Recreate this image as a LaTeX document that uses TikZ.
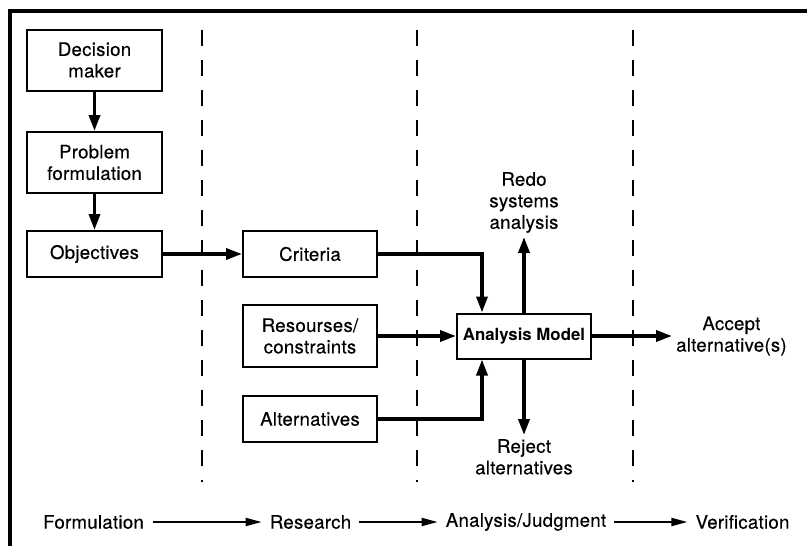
\documentclass[tikz,border=0pt]{standalone}
\usepackage{fontspec}
\setmainfont[LetterSpace=1.5,FakeBold=0.35]{TeX Gyre Heros}
\newfontfamily\modelfont{TeX Gyre Heros}
\usetikzlibrary{arrows.meta}
\begin{document}
\begin{tikzpicture}[x=1pt,y=-1pt,
  every node/.style={font=\fontsize{18.6}{21.5}\selectfont, align=center},
  box/.style={draw, line width=2pt, inner sep=0pt},
  link/.style={line width=3.4pt, -{Triangle[length=16pt,width=11pt]}},
  stage/.style={line width=2pt, -{Triangle[length=16pt,width=8pt]}},
  phase/.style={line width=2pt, dash pattern=on 16pt off 14pt},
  label/.style={inner sep=4pt}]
\useasboundingbox (0,0) rectangle (807,546);
% open frame: top and left edges
\draw[line width=3.2pt] (10,546) -- (10,11) -- (807,11);
% phase separators
\draw[phase] (202,30) -- (202,482);
\draw[phase] (417,30) -- (417,482);
\draw[phase] (633,30) -- (633,482);
% boxes
\node[box, minimum width=135, minimum height=61] (dm)  at (94.5,60)  {Decision\\maker};
\node[box, minimum width=135, minimum height=61] (pf)  at (94.5,162.5) {Problem\\formulation};
\node[box, minimum width=135, minimum height=46] (obj) at (94.5,254) {Objectives};
\node[box, minimum width=134, minimum height=46] (cri) at (310,254)  {Criteria};
\node[box, minimum width=134, minimum height=62] (res) at (310,336)  {Resourses/\\constraints};
\node[box, minimum width=134, minimum height=46] (alt) at (310,419)  {Alternatives};
\node[box, minimum width=134, minimum height=45,
      font=\modelfont\fontsize{16.8}{20}\selectfont\bfseries] (am) at (524,336) {Analysis Model};
% outcomes
\node[label, anchor=south] (redo)   at (524,237) {Redo\\systems\\analysis};
\node[label, anchor=north] (reject) at (524,435) {Reject\\alternatives};
\node[label, anchor=west]  (accept) at (672,336) {Accept\\alternative(s)};
% connectors
\draw[link] (dm) -- (pf);
\draw[link] (pf) -- (obj);
\draw[link] (obj) -- (cri);
\draw[link] (cri.east) -| ([xshift=26pt]am.north west);
\draw[link] (res) -- (am);
\draw[link] (alt.east) -| ([xshift=26pt]am.south west);
\draw[link] (am) -- (redo);
\draw[link] (am) -- (reject);
\draw[link] (am) -- (accept);
% phase sequence
\node[inner xsep=9pt] (f) at (93.5,522)  {Formulation};
\node[inner xsep=8pt] (r) at (310.5,522) {Research};
\node[inner xsep=8pt] (a) at (526,522)   {Analysis/Judgment};
\node[inner xsep=8pt] (v) at (742.5,522) {Verification};
\draw[stage] (f) -- (r);
\draw[stage] (r) -- (a);
\draw[stage] (a) -- (v);
\end{tikzpicture}
\end{document}
